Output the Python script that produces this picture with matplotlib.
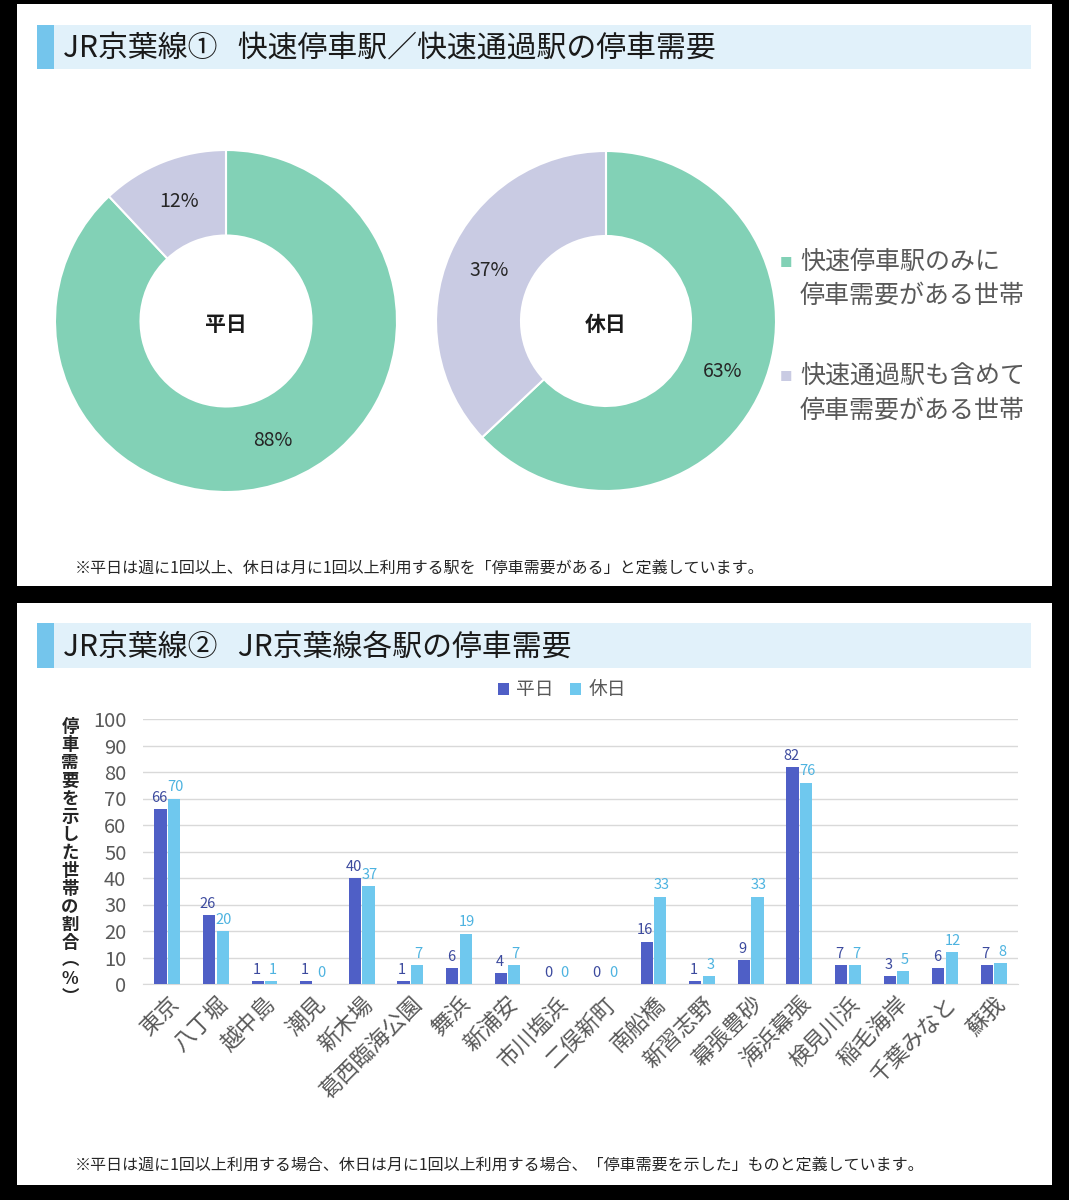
import matplotlib
matplotlib.use("Agg")
import matplotlib.pyplot as plt
from matplotlib.patches import Rectangle
import numpy as np

plt.rcParams['font.family'] = ['Noto Sans CJK JP', 'DejaVu Sans']

# ---------------- data ----------------
pie_labels = ["快速停車駅のみに\n停車需要がある世帯", "快速通過駅も含めて\n停車需要がある世帯"]
weekday_share = [88, 12]
holiday_share = [63, 37]
pie_colors = ["#82D1B6", "#C9CBE3"]

stations = ["東京", "八丁堀", "越中島", "潮見", "新木場", "葛西臨海公園", "舞浜", "新浦安",
            "市川塩浜", "二俣新町", "南船橋", "新習志野", "幕張豊砂", "海浜幕張", "検見川浜",
            "稲毛海岸", "千葉みなと", "蘇我"]
weekday = [66, 26, 1, 1, 40, 1, 6, 4, 0, 0, 16, 1, 9, 82, 7, 3, 6, 7]
holiday = [70, 20, 1, 0, 37, 7, 19, 7, 0, 0, 33, 3, 33, 76, 7, 5, 12, 8]
yticks = [0, 10, 20, 30, 40, 50, 60, 70, 80, 90, 100]

title1 = "JR京葉線①   快速停車駅／快速通過駅の停車需要"
title2 = "JR京葉線②   JR京葉線各駅の停車需要"
note1 = "※平日は週に1回以上、休日は月に1回以上利用する駅を「停車需要がある」と定義しています。"
note2 = "※平日は週に1回以上利用する場合、休日は月に1回以上利用する場合、「停車需要を示した」ものと定義しています。"
ylabel = "停車需要を示した世帯の割合︵%︶"

W, H = 1069, 1200
fig = plt.figure(figsize=(W / 100, H / 100), dpi=100)
fig.patch.set_facecolor("black")


def fx(x):
    return x / W


def fy(y):
    return 1 - y / H


def ax_px(x0, y0, x1, y1, **kw):
    return fig.add_axes([fx(x0), fy(y1), (x1 - x0) / W, (y1 - y0) / H], **kw)


def rect_px(x0, y0, x1, y1, color, z=0):
    fig.add_artist(Rectangle((fx(x0), fy(y1)), (x1 - x0) / W, (y1 - y0) / H,
                             transform=fig.transFigure, facecolor=color,
                             edgecolor="none", zorder=z))


# panels
rect_px(17, 4, 1052, 586, "white")
rect_px(17, 603, 1052, 1185, "white")

# title bars
for (y0, y1, t) in [(25, 69, title1), (623, 668, title2)]:
    rect_px(37, y0, 1031, y1, "#E1F1FA", 1)
    rect_px(37, y0, 54, y1, "#74C5EC", 2)
    fig.text(fx(63), fy((y0 + y1) / 2 + 2), t, fontsize=21.5, color="#1a1a1a",
             va="center", ha="left", zorder=3)

# ---------------- donuts ----------------
for (cx, cy, r, vals, name) in [(226, 321, 171, weekday_share, "平日"),
                                (606, 321, 170, holiday_share, "休日")]:
    ax = ax_px(cx - r, cy - r, cx + r, cy + r)
    wedges, texts, autotexts = ax.pie(
        vals, colors=pie_colors, startangle=90, counterclock=False, radius=1,
        wedgeprops=dict(width=0.5, edgecolor="white", linewidth=1.5),
        autopct=lambda p: f"{p:.0f}%", pctdistance=0.75)
    for t in autotexts:
        t.set_fontsize(14)
        t.set_color("#262626")
    ax.text(0, -0.02, name, ha="center", va="center", fontsize=15,
            fontweight="bold", color="#1a1a1a")
    ax.set_xlim(-1, 1)
    ax.set_ylim(-1, 1)
    ax.set_aspect("equal")
    ax.axis("off")

# legend (top)
for (y, lab, c) in [(263, pie_labels[0], pie_colors[0]), (378, pie_labels[1], pie_colors[1])]:
    fig.text(fx(786), fy(y), "■", fontsize=9, color=c, ha="center", va="center")
    fig.text(fx(800), fy(y - 14), lab, fontsize=18, color="#595959",
             ha="left", va="top", linespacing=1.4)

fig.text(fx(75), fy(568), note1, fontsize=11.5, color="#262626", ha="left", va="center")

# ---------------- bar chart ----------------
bx = ax_px(143, 719, 1018, 984)
x = np.arange(len(stations))
bw = 0.25
off = 0.14
dark = "#4F5FC6"
light = "#6FC8EE"
b1 = bx.bar(x - off, weekday, bw, color=dark, label="平日", zorder=3)
b2 = bx.bar(x + off, holiday, bw, color=light, label="休日", zorder=3)
for rect, v in zip(b1, weekday):
    bx.annotate(f"{v}", (rect.get_x() + rect.get_width() / 2, v), xytext=(-1, 3),
                textcoords="offset points", ha="center", va="bottom",
                fontsize=10.5, color="#3C4A9E")
for rect, v in zip(b2, holiday):
    bx.annotate(f"{v}", (rect.get_x() + rect.get_width() / 2, v), xytext=(1, 3),
                textcoords="offset points", ha="center", va="bottom",
                fontsize=10.5, color="#4DB3E0")

bx.set_xlim(-0.5, len(stations) - 0.5)
bx.set_ylim(0, 100)
bx.set_yticks(yticks)
bx.set_yticklabels([str(v) for v in yticks], fontsize=14.5, color="#595959")
bx.tick_params(axis="y", length=0, pad=12)
bx.set_xticks(x)
bx.set_xticklabels(stations, rotation=45, ha="right", va="top",
                   rotation_mode="anchor", fontsize=16, color="#595959")
bx.tick_params(axis="x", length=0, pad=6)
bx.grid(axis="y", color="#D9D9D9", linewidth=1, zorder=0)
for s in ["top", "right", "left"]:
    bx.spines[s].set_visible(False)
bx.spines["bottom"].set_color("#D9D9D9")
bx.set_facecolor("white")

fig.legend(handles=[b1, b2], labels=["平日", "休日"], loc="center",
           bbox_to_anchor=(fx(562), fy(690)), ncol=2, frameon=False,
           fontsize=13.5, labelcolor="#595959", handlelength=0.55, handleheight=0.55,
           handletextpad=0.4, columnspacing=0.9)

fig.text(fx(70), fy(862), "\n".join(ylabel), fontsize=12.5, fontweight="bold",
         color="#262626", ha="center", va="center", linespacing=1.0)

fig.text(fx(75), fy(1165), note2, fontsize=11.5, color="#262626", ha="left", va="center")

fig.savefig("out.png", dpi=100, facecolor=fig.get_facecolor())
